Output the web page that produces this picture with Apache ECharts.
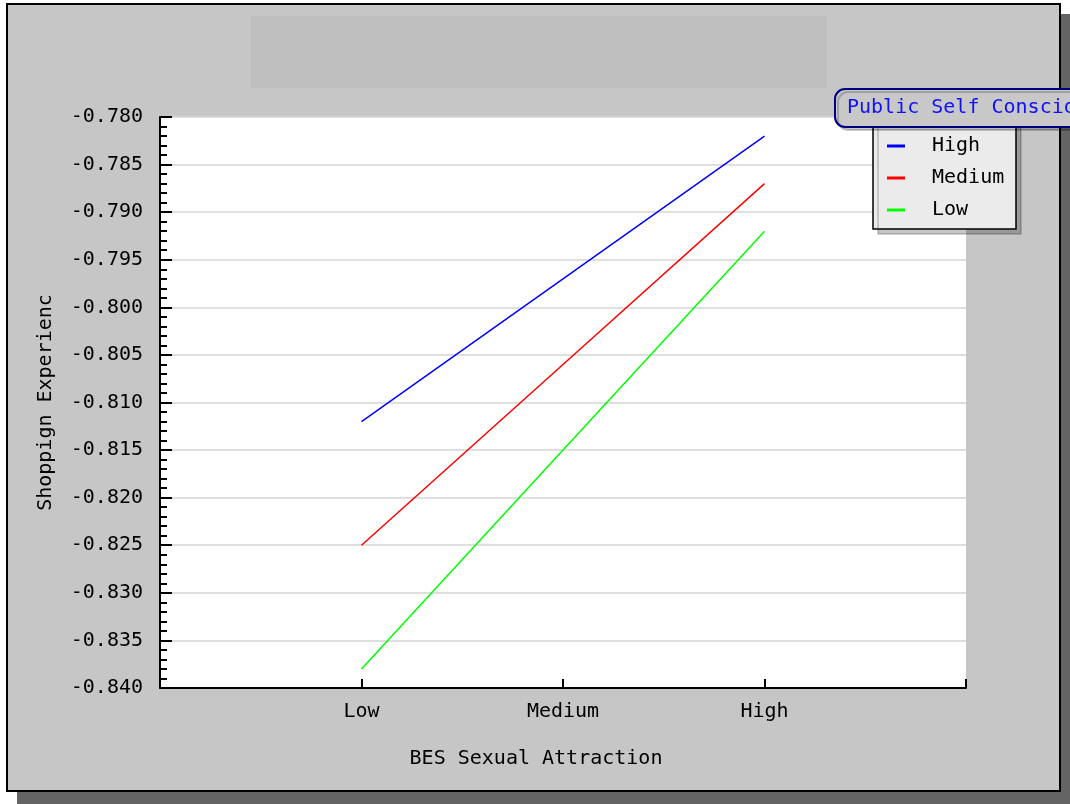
<!DOCTYPE html>
<html><head><meta charset="utf-8">
<script src="https://cdn.jsdelivr.net/npm/echarts@6/dist/echarts.min.js"></script>
<style>html,body{margin:0;padding:0;background:#fff;}#c{width:1070px;height:804px;}</style>
</head><body><div id="c"></div>
<script>
var categories = ['Low', 'Medium', 'High'];
var seriesNames = ['High', 'Medium', 'Low'];
var highValues = [-0.812, -0.797, -0.782];
var mediumValues = [-0.825, -0.806, -0.787];
var lowValues = [-0.838, -0.815, -0.792];
var seriesColors = ['#0000ff', '#ff0000', '#00ff00'];
var xTitle = 'BES Sexual Attraction';
var yTitle = 'Shoppign Experienc';
var legendTitle = 'Public Self Consciousness';

var FONT = '"DejaVu Sans Mono", "Liberation Mono", monospace';
function pts(vals){ return vals.map(function(v,i){ return [i+1, v]; }); }
var allVals = [highValues, mediumValues, lowValues];

var chart = echarts.init(document.getElementById('c'), null, {renderer:'canvas'});
chart.setOption({
  animation: false,
  backgroundColor: '#ffffff',
  textStyle: {fontFamily: FONT},
  graphic: [
    {type:'rect', z:-10, silent:true, shape:{x:17, y:14, width:1053, height:790}, style:{fill:'#646464'}},
    {type:'rect', z:-9, silent:true, shape:{x:7, y:4, width:1053, height:787}, style:{fill:'#c6c6c6', stroke:'#000', lineWidth:2}},
    {type:'rect', z:-8, silent:true, shape:{x:251, y:16, width:576, height:72}, style:{fill:'#bfbfbf'}},
    {type:'text', z:-8, silent:true, style:{x:536, y:759, text:xTitle, font:'20px ' + FONT, fill:'#000', align:'center', verticalAlign:'middle'}},
    {type:'rect', z:1, silent:true, shape:{x:873, y:118, width:143, height:111}, style:{fill:'#ebebeb', stroke:'#000', lineWidth:1.5, shadowColor:'rgba(0,0,0,0.22)', shadowOffsetX:5, shadowOffsetY:5, shadowBlur:0}},
    {type:'rect', z:100, silent:true, shape:{x:835, y:89, width:260, height:38, r:10}, style:{fill:'#c8c8c8', stroke:'#000080', lineWidth:2, shadowColor:'rgba(0,0,0,0.2)', shadowOffsetX:3, shadowOffsetY:3, shadowBlur:0}},
    {type:'text', z:101, silent:true, style:{x:847, y:108, text:legendTitle, font:'20px ' + FONT, fill:'#1010ff', align:'left', verticalAlign:'middle'}}
  ],
  legend: {
    show: true, orient: 'vertical', left: 882, top: 131, z: 50,
    icon: 'rect', itemWidth: 18, itemHeight: 3, itemGap: 12,
    data: seriesNames,
    textStyle: {fontFamily: FONT, fontSize: 20, color: '#000', lineHeight: 20, padding: [0,0,0,22]}
  },
  grid: {left:160, top:117, right:104, bottom:116, show:true, backgroundColor:'#ffffff', borderWidth:0, containLabel:false},
  xAxis: {
    type: 'value', min: 0, max: 4, interval: 1,
    axisLine: {show:true, onZero:false, lineStyle:{color:'#000', width:2}},
    axisTick: {show:true, inside:true, length:9, lineStyle:{color:'#000', width:2}},
    splitLine: {show:false},
    axisLabel: {show:true, margin:14, fontFamily:FONT, fontSize:20, color:'#000',
      formatter: function(v){ return categories[v-1] || ''; }}
  },
  yAxis: {
    type: 'value', min: -0.84, max: -0.78, interval: 0.005,
    name: yTitle, nameLocation: 'middle', nameGap: 104,
    nameTextStyle: {fontFamily:FONT, fontSize:20, color:'#000'},
    axisLine: {show:true, onZero:false, lineStyle:{color:'#000', width:2}},
    axisTick: {show:true, inside:true, length:12, lineStyle:{color:'#000', width:2}},
    minorTick: {show:true, splitNumber:5, length:7, lineStyle:{color:'#000', width:2}},
    splitLine: {show:true, lineStyle:{color:'#d4d4d4', width:1.5}},
    axisLabel: {show:true, margin:17, fontFamily:FONT, fontSize:20, color:'#000',
      formatter: function(v){ return v.toFixed(3); }}
  },
  series: seriesNames.map(function(n, i){
    return {name:n, type:'line', data:pts(allVals[i]), showSymbol:false, symbol:'none',
      itemStyle:{color:seriesColors[i]}, lineStyle:{color:seriesColors[i], width:1.5}, z:3};
  })
});
</script></body></html>
